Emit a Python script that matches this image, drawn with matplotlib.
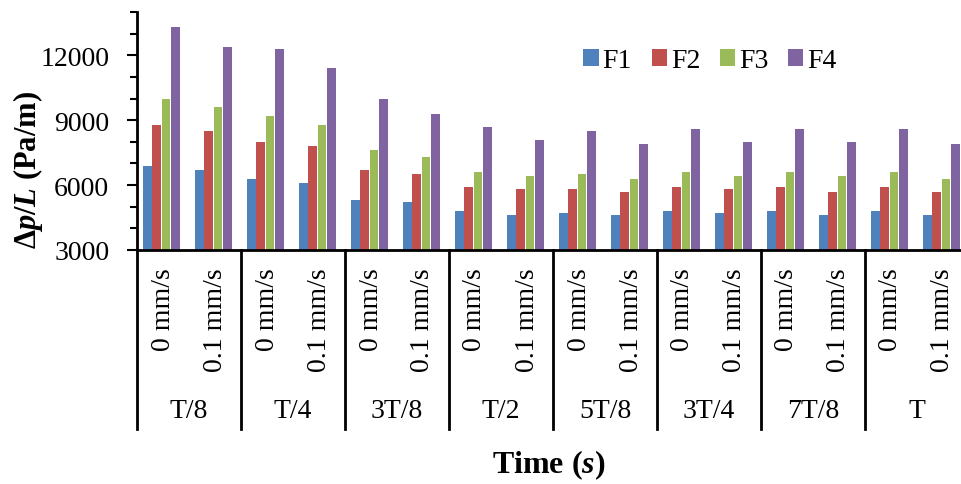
import matplotlib
matplotlib.use("Agg")
import matplotlib.pyplot as plt
import numpy as np
from matplotlib.ticker import FixedLocator, MultipleLocator

plt.rcParams['font.family'] = ['Liberation Serif', 'DejaVu Serif']
plt.rcParams['mathtext.fontset'] = 'custom'
plt.rcParams['mathtext.rm'] = 'Liberation Serif:bold'
plt.rcParams['mathtext.it'] = 'Liberation Serif:italic:bold'
plt.rcParams['mathtext.bf'] = 'Liberation Serif:bold'

times = ["T/8", "T/4", "3T/8", "T/2", "5T/8", "3T/4", "7T/8", "T"]
speeds = ["0 mm/s", "0.1 mm/s"]
series = ["F1", "F2", "F3", "F4"]
colors = ["#4F81BD", "#C0504D", "#9BBB59", "#8064A2"]

F1 = [6900, 6700, 6300, 6100, 5300, 5200, 4800, 4600,
      4700, 4600, 4800, 4700, 4800, 4600, 4800, 4600]
F2 = [8800, 8500, 8000, 7800, 6700, 6500, 5900, 5800,
      5800, 5700, 5900, 5800, 5900, 5700, 5900, 5700]
F3 = [10000, 9600, 9200, 8800, 7600, 7300, 6600, 6400,
      6500, 6300, 6600, 6400, 6600, 6400, 6600, 6300]
F4 = [13300, 12400, 12300, 11400, 10000, 9300, 8700, 8100,
      8500, 7900, 8600, 8000, 8600, 8000, 8600, 7900]
values = [F1, F2, F3, F4]

W, H = 962, 485
fig = plt.figure(figsize=(W / 100, H / 100), dpi=100)
left_px, right_px, top_px, base_px = 137, 969, 13, 251
ax = fig.add_axes([left_px / W, (H - base_px) / H,
                   (right_px - left_px) / W, (base_px - top_px) / H])

n = len(times) * len(speeds)
x = np.arange(n)
bw = 0.18
for i, (name, vals, c) in enumerate(zip(series, values, colors)):
    ax.bar(x + (i - 1.5) * bw - 0.03, vals, width=bw * 0.92, color=c,
           label=name, zorder=2)

ax.set_xlim(-0.5, n - 0.5)
ax.set_ylim(3000, 14000)
ax.yaxis.set_major_locator(FixedLocator([3000, 6000, 9000, 12000]))
ax.yaxis.set_minor_locator(MultipleLocator(1000))
ax.tick_params(axis='y', which='major', direction='out', length=7, width=1.5,
               labelsize=20, pad=13)
ax.tick_params(axis='y', which='minor', direction='out', length=5, width=1.5)
ax.set_xticks([])
for s in ['top', 'right']:
    ax.spines[s].set_visible(False)
ax.spines['left'].set_linewidth(2)
ax.spines['bottom'].set_linewidth(2)

tr = ax.get_xaxis_transform()
ax_h = base_px - top_px
def ay(px):
    return -(px - base_px) / ax_h

# velocity labels
for k in range(n):
    ax.text(x[k], ay(268), speeds[k % 2], rotation=90, ha='center', va='top',
            fontsize=20, transform=tr, clip_on=False)
# time labels
for g, t in enumerate(times):
    ax.text(2 * g + 0.5, ay(412), t, ha='center', va='center', fontsize=20,
            transform=tr, clip_on=False)
# separators
for g in range(len(times) + 1):
    ax.plot([2 * g - 0.5, 2 * g - 0.5], [0, ay(430)], color='black', lw=2,
            transform=tr, clip_on=False)

fig.text(549 / W, 1 - 465 / H, r'Time ($\mathit{s}$)', ha='center', va='center',
         fontsize=23, fontweight='bold')
fig.text(28 / W, 1 - 170 / H, r'$\Delta\mathit{p/L}$ (Pa/m)', rotation=90,
         ha='center', va='center', fontsize=22, fontweight='bold')

ax.legend(loc='center', bbox_to_anchor=(710 / W, 1 - 62 / H),
          bbox_transform=fig.transFigure, ncol=4, frameon=False, fontsize=20,
          handlelength=0.55, handleheight=0.55, handletextpad=0.15,
          columnspacing=0.7)

fig.savefig("out.png", dpi=100)
